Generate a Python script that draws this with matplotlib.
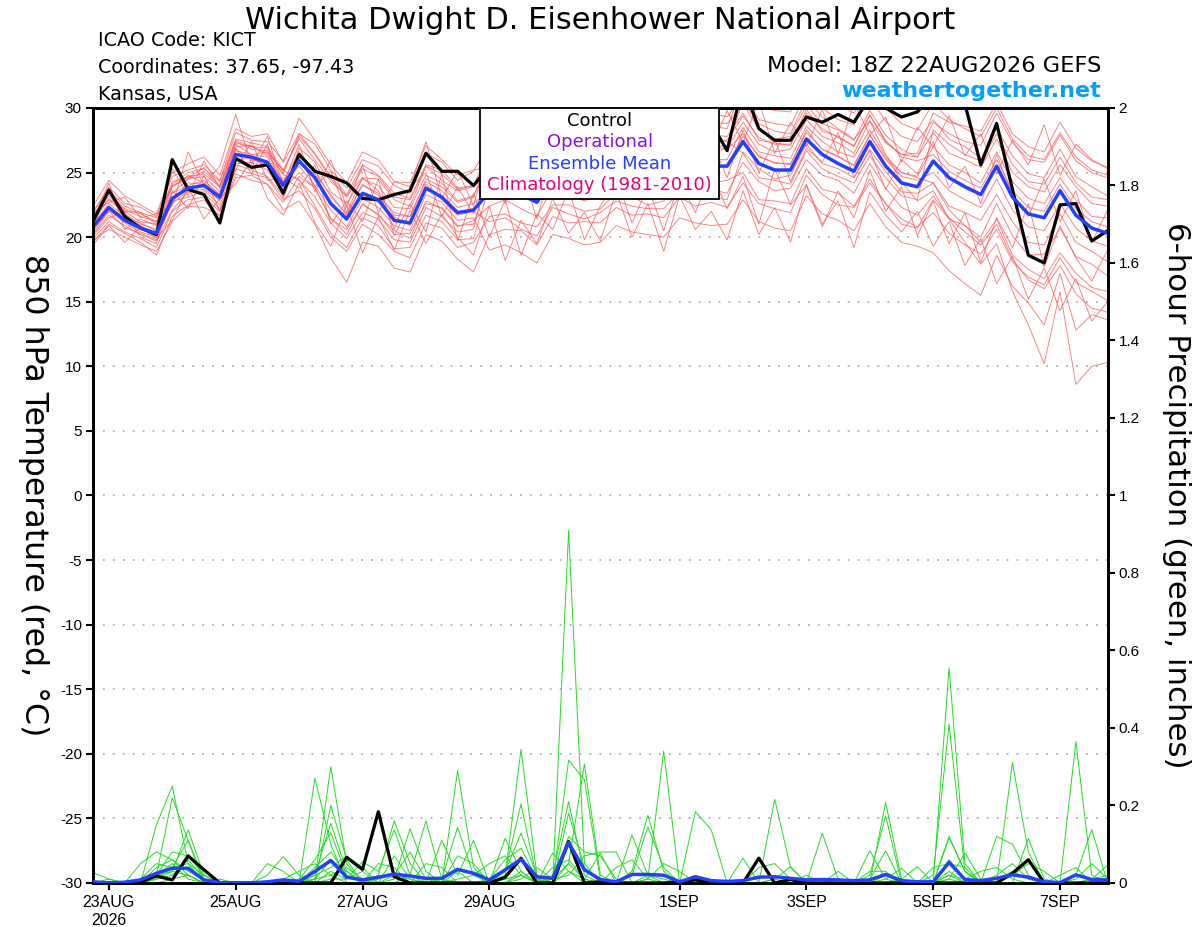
import numpy as np
import matplotlib
matplotlib.use("Agg")
import matplotlib.pyplot as plt
from matplotlib.patches import Rectangle

plt.rcParams['font.family'] = ['Liberation Sans', 'DejaVu Sans']
plt.rcParams['axes.unicode_minus'] = False
TXT = 'DejaVu Sans'

# forecast hours from 18Z 22AUG2026, every 6 h
fhour = np.arange(0, 385, 6)

tick_hours = [6, 54, 102, 150, 222, 270, 318, 366]
tick_labels = ['23AUG\n2026', '25AUG', '27AUG', '29AUG', '1SEP', '3SEP', '5SEP', '7SEP']

# 850 hPa temperature (C)
ctl_temp = [21.2, 23.65, 21.6, 20.7, 20.2, 26.0, 23.7, 23.3, 21.1, 26.1, 25.4, 25.6, 23.4,
            26.4, 25.1, 24.7, 24.2, 23.0, 22.9, 23.3, 23.6, 26.5, 25.1, 25.1, 24.0, 25.5,
            26.2, 25.0, 24.3, 26.8, 26.5, 25.9, 26.4, 27.6, 27.0, 26.8, 27.2, 28.6, 27.9,
            28.8, 26.7, 31.8, 28.4, 27.5, 27.5, 29.3, 28.9, 29.5, 28.9, 30.8, 30.0, 29.3,
            29.7, 31.0, 31.5, 30.3, 25.6, 28.8, 23.7, 18.6, 18.0, 22.5, 22.6, 19.7, 20.5]

mean_temp = [20.8, 22.3, 21.3, 20.7, 20.3, 23.0, 23.8, 24.0, 23.1, 26.4, 26.2, 25.8, 24.0,
             25.9, 24.6, 22.6, 21.4, 23.4, 22.9, 21.3, 21.1, 23.8, 23.1, 21.9, 22.1, 23.5,
             23.8, 23.3, 22.7, 24.6, 24.4, 24.0, 24.3, 25.4, 25.0, 24.6, 24.8, 26.0, 25.6,
             25.5, 25.5, 27.4, 25.7, 25.2, 25.2, 27.6, 26.4, 25.7, 25.1, 27.4, 25.5, 24.2,
             23.9, 25.9, 24.6, 23.9, 23.3, 25.5, 23.1, 21.8, 21.5, 23.6, 21.7, 20.7, 20.3]

temp_members = [
    [21.6, 23.5, 22.0, 21.9, 21.0, 24.3, 24.6, 25.4, 23.9, 27.5, 27.0, 26.5, 25.2,
     27.6, 26.0, 24.3, 23.2, 24.6, 24.5, 22.9, 22.4, 25.5, 24.4, 23.6, 23.9,
     26.0, 26.5, 25.7, 25.0, 27.3, 26.7, 26.6, 26.9, 27.9, 27.4, 26.9, 27.5, 28.3, 28.0, 27.9, 27.8,
     29.6, 27.5, 27.3, 27.1, 29.9, 28.2, 27.8, 27.0, 29.5, 27.4, 26.4, 26.2,
     28.9, 28.0, 27.4, 27.1, 29.6, 27.3, 26.0, 25.8, 27.9, 25.9, 25.0, 24.6],
    [20.2, 21.7, 20.9, 20.2, 19.7, 22.1, 23.5, 23.4, 22.2, 25.3, 24.9, 24.6, 22.9,
     23.6, 22.2, 20.0, 18.9, 21.0, 20.2, 18.9, 18.4, 21.1, 20.7, 19.2, 19.6,
     21.6, 21.8, 21.1, 20.8, 22.5, 22.5, 22.0, 22.2, 23.4, 23.1, 22.5, 22.8, 24.2, 23.5, 23.7, 23.4,
     25.8, 24.3, 23.6, 23.8, 26.0, 24.8, 24.4, 23.4, 25.7, 23.8, 22.3, 21.7,
     23.2, 21.5, 20.4, 19.4, 21.0, 18.3, 16.7, 16.0, 17.8, 15.6, 14.5, 14.2],
    [21.5, 22.9, 21.8, 21.0, 20.6, 23.9, 24.8, 24.2, 23.3, 27.2, 26.4, 26.6, 24.3,
     26.6, 24.9, 23.3, 21.7, 24.1, 23.2, 21.9, 21.6, 24.5, 23.9, 22.7, 23.1,
     26.3, 27.1, 26.6, 26.0, 28.2, 27.9, 27.4, 27.9, 29.0, 28.4, 28.1, 28.3, 29.6, 29.0, 28.9, 28.8,
     30.3, 28.4, 27.6, 27.8, 30.2, 28.8, 28.3, 27.5, 29.8, 27.9, 26.8, 26.2,
     28.1, 26.5, 26.0, 25.4, 27.6, 25.0, 23.9, 23.5, 25.6, 23.9, 22.6, 22.4],
    [19.6, 21.0, 20.3, 19.6, 18.6, 21.6, 22.5, 22.9, 21.6, 24.9, 24.4, 24.1, 22.1,
     22.8, 21.0, 18.4, 16.5, 19.6, 19.3, 17.6, 17.3, 20.2, 19.7, 18.3, 17.3,
     20.2, 20.6, 20.5, 19.4, 21.6, 21.1, 21.2, 21.1, 22.3, 21.7, 21.8, 21.5, 23.1, 22.4, 22.7, 22.3,
     24.2, 22.6, 22.2, 21.9, 24.8, 23.3, 22.5, 22.3, 24.2, 22.6, 21.0, 20.7,
     22.9, 21.4, 20.9, 20.0, 22.6, 20.1, 18.6, 18.7, 20.7, 18.5, 17.9, 17.0],
    [22.4, 24.4, 23.2, 22.5, 21.8, 25.0, 25.7, 26.2, 24.8, 28.4, 27.8, 28.0, 25.8,
     28.0, 26.5, 24.7, 23.3, 25.6, 24.8, 23.4, 23.0, 25.6, 25.2, 23.8, 24.0,
     24.6, 25.0, 24.2, 23.9, 25.4, 25.5, 24.8, 25.4, 26.3, 26.1, 25.5, 25.9, 26.8, 26.8, 26.5, 26.9,
     28.9, 27.2, 26.6, 26.8, 29.1, 27.8, 27.3, 26.5, 29.0, 27.3, 26.4, 26.5,
     29.6, 28.9, 28.6, 28.2, 30.4, 28.0, 27.0, 26.6, 28.9, 26.9, 25.9, 25.4],
    [20.6, 22.0, 21.5, 20.9, 20.1, 22.7, 24.2, 24.1, 22.8, 26.8, 26.0, 25.6, 23.7,
     25.0, 23.8, 21.4, 20.6, 22.5, 21.8, 20.2, 20.3, 22.6, 22.3, 20.9, 21.0,
     24.8, 25.4, 24.6, 24.3, 26.2, 25.8, 25.6, 25.7, 26.9, 26.6, 26.1, 26.3, 27.4, 27.2, 27.0, 27.1,
     30.5, 28.8, 28.2, 28.0, 30.7, 29.3, 28.4, 27.6, 29.0, 26.4, 24.3, 22.8,
     23.6, 21.4, 19.6, 17.9, 19.5, 15.8, 13.2, 10.2, 15.8, 8.6, 10.0, 10.3],
    [21.9, 23.9, 22.6, 22.3, 21.6, 24.7, 25.2, 25.6, 24.4, 28.1, 27.5, 27.4, 25.9,
     29.2, 27.5, 25.6, 24.2, 26.6, 26.0, 24.3, 24.2, 27.1, 26.0, 24.8, 25.2,
     25.4, 25.2, 24.8, 24.0, 26.3, 25.8, 25.4, 25.9, 27.0, 26.4, 26.0, 26.4, 27.5, 27.0, 27.1, 26.8,
     28.0, 26.2, 25.8, 25.6, 28.3, 26.8, 26.3, 25.5, 27.9, 26.1, 25.0, 24.7,
     27.0, 25.6, 25.0, 24.2, 26.6, 24.3, 23.0, 22.6, 24.6, 22.9, 21.6, 21.5],
    [19.8, 20.6, 20.0, 19.4, 18.9, 21.2, 22.4, 22.3, 21.7, 24.6, 24.8, 24.1, 22.7,
     24.7, 23.8, 21.5, 20.2, 22.6, 21.7, 20.5, 19.9, 22.8, 22.2, 20.8, 21.3,
     22.4, 22.9, 22.2, 21.6, 23.8, 23.3, 22.8, 23.4, 24.3, 24.0, 23.6, 23.7, 24.8, 24.5, 24.2, 24.4,
     25.0, 22.9, 22.8, 22.6, 25.3, 23.7, 23.4, 22.4, 24.5, 22.6, 21.4, 20.8,
     21.9, 20.3, 19.4, 18.7, 20.6, 18.1, 16.9, 16.3, 18.4, 16.5, 15.8, 15.1],
    [21.1, 23.0, 22.0, 21.2, 21.0, 23.4, 24.5, 24.7, 23.5, 27.0, 27.1, 26.3, 24.9,
     28.0, 27.2, 25.2, 23.8, 26.0, 25.5, 24.0, 23.4, 26.5, 25.8, 24.4, 25.1,
     27.3, 27.6, 27.5, 26.6, 28.7, 28.4, 28.0, 28.1, 29.6, 29.0, 28.7, 28.8, 30.2, 29.5, 29.6, 29.3,
     31.0, 29.1, 28.8, 28.6, 31.2, 30.0, 29.1, 28.7, 30.8, 29.0, 27.8, 27.4,
     29.1, 27.6, 27.0, 26.1, 28.4, 26.3, 24.9, 24.6, 26.8, 24.7, 23.9, 23.2],
    [20.3, 22.0, 20.7, 20.3, 19.8, 22.8, 23.1, 23.6, 22.5, 25.7, 25.8, 25.2, 23.4,
     25.8, 24.7, 22.5, 21.6, 23.3, 22.7, 21.6, 20.9, 24.1, 22.9, 21.7, 22.0,
     21.2, 21.5, 20.6, 20.1, 22.3, 21.8, 21.4, 21.9, 22.8, 22.4, 22.2, 22.2, 23.5, 23.0, 23.1, 22.9,
     26.6, 25.3, 24.5, 24.8, 27.2, 25.7, 25.3, 24.6, 26.8, 25.1, 23.5, 23.4,
     24.2, 22.4, 21.9, 21.3, 23.3, 21.2, 19.6, 19.4, 21.8, 19.6, 18.9, 18.1],
    [21.7, 23.4, 22.2, 21.8, 21.2, 24.0, 24.5, 25.1, 24.0, 27.3, 27.0, 26.9, 24.8,
     24.5, 22.4, 20.3, 19.2, 21.5, 20.9, 19.1, 19.2, 21.7, 21.2, 19.8, 19.9,
     23.9, 24.4, 23.7, 23.3, 25.0, 24.9, 24.6, 24.7, 25.9, 25.3, 25.2, 25.2, 26.4, 26.1, 26.0, 26.0,
     28.5, 26.6, 26.3, 26.1, 28.6, 27.4, 26.6, 26.2, 28.3, 26.3, 25.0, 24.6,
     24.2, 22.1, 20.9, 19.6, 21.4, 18.6, 17.5, 16.8, 18.8, 17.2, 16.1, 15.8],
    [19.9, 21.2, 20.4, 19.9, 19.2, 22.0, 22.9, 23.1, 22.0, 25.6, 25.2, 24.7, 23.2,
     26.9, 25.8, 23.5, 22.6, 24.5, 24.0, 22.3, 22.2, 24.8, 24.2, 22.8, 23.2,
     25.5, 25.8, 25.4, 24.6, 26.7, 26.3, 26.1, 26.3, 27.3, 27.0, 26.7, 26.7, 28.0, 27.5, 27.6, 27.4,
     26.5, 24.6, 24.4, 24.1, 26.7, 25.3, 24.7, 24.2, 26.3, 24.6, 23.2, 22.9,
     28.3, 27.2, 26.4, 25.9, 28.0, 25.6, 24.3, 24.1, 26.2, 24.2, 23.1, 22.9],
    [21.0, 22.6, 21.6, 21.1, 20.5, 23.4, 24.0, 24.4, 23.3, 26.7, 26.4, 26.2, 24.3,
     25.5, 24.0, 22.1, 20.8, 23.0, 22.3, 20.9, 20.5, 23.3, 22.7, 21.3, 21.5,
     19.0, 19.4, 18.8, 18.0, 20.2, 19.9, 19.4, 19.6, 20.9, 20.4, 20.2, 20.0, 21.5, 21.1, 20.9, 21.0,
     22.9, 21.2, 20.7, 20.5, 23.2, 21.8, 21.3, 20.5, 22.6, 20.8, 19.6, 19.3,
     18.8, 17.4, 16.4, 15.5, 18.6, 16.2, 14.9, 13.2, 17.2, 12.8, 14.0, 13.6],
    [21.4, 23.2, 22.1, 21.6, 21.2, 23.9, 24.7, 24.9, 23.9, 27.4, 26.8, 26.7, 25.1,
     27.8, 26.4, 24.5, 23.1, 25.3, 24.7, 23.1, 22.9, 25.5, 24.9, 23.7, 24.0,
     26.7, 26.6, 26.2, 25.8, 27.6, 27.4, 27.1, 27.2, 28.5, 28.0, 27.7, 27.8, 29.0, 28.5, 28.6, 28.4,
     31.9, 30.2, 29.8, 29.7, 32.0, 30.9, 30.2, 29.6, 31.8, 30.0, 28.8, 28.3,
     30.4, 29.1, 28.4, 27.8, 30.0, 27.6, 26.3, 26.0, 28.1, 26.2, 25.2, 24.8],
    [20.5, 22.1, 21.1, 20.4, 20.0, 22.6, 23.6, 23.7, 22.9, 26.0, 26.1, 25.5, 24.0,
     26.3, 25.2, 23.1, 21.8, 24.0, 23.4, 21.7, 21.6, 24.3, 23.6, 22.3, 22.6,
     23.6, 23.7, 23.5, 22.6, 24.5, 24.5, 23.9, 24.4, 25.3, 25.1, 24.5, 24.9, 25.9, 25.7, 25.4, 25.6,
     27.8, 26.3, 25.7, 25.7, 28.1, 26.8, 26.2, 25.6, 27.9, 26.0, 24.7, 24.4,
     25.0, 23.6, 22.9, 22.3, 24.5, 22.1, 20.8, 20.5, 22.6, 20.7, 19.7, 19.3],
    [22.0, 23.6, 22.4, 21.9, 21.5, 24.1, 25.0, 25.3, 24.3, 27.6, 27.3, 27.0, 25.2,
     24.4, 23.1, 21.1, 19.9, 21.9, 21.4, 19.8, 19.6, 22.3, 21.6, 20.4, 20.6,
     25.5, 25.8, 25.3, 24.7, 26.6, 26.4, 26.0, 26.3, 27.4, 27.0, 26.6, 26.8, 28.0, 27.6, 27.5, 27.5,
     29.4, 27.7, 27.2, 27.2, 29.6, 28.4, 27.7, 27.1, 29.4, 27.5, 26.2, 25.9,
     26.4, 25.1, 24.4, 23.8, 26.0, 23.6, 22.3, 22.0, 24.1, 22.2, 21.2, 20.8],
    [20.1, 21.5, 21.9, 20.0, 19.5, 23.6, 22.2, 24.8, 22.0, 25.2, 27.4, 24.4, 24.6,
     23.8, 25.6, 21.0, 22.8, 21.2, 24.5, 20.1, 22.6, 20.4, 24.9, 19.7, 23.4,
     20.0, 22.9, 18.6, 21.8, 20.6, 23.7, 19.8, 22.4, 24.6, 21.1, 23.9, 20.5, 24.4, 21.9, 25.0, 22.2,
     24.7, 21.0, 25.3, 22.5, 24.0, 20.8, 23.6, 21.5, 25.2, 22.0, 23.9, 20.1,
     22.8, 19.5, 21.9, 18.0, 21.5, 19.2, 22.6, 17.7, 20.9, 18.4, 16.6, 19.0],
    [21.9, 22.7, 23.1, 21.5, 21.8, 22.4, 26.6, 24.0, 25.5, 29.5, 25.6, 27.8, 24.1,
     27.2, 23.5, 26.0, 22.3, 25.6, 21.9, 24.3, 23.9, 27.4, 23.0, 25.2, 22.4,
     27.0, 24.2, 28.0, 23.5, 26.4, 29.1, 25.0, 27.7, 24.5, 28.8, 26.2, 29.5, 25.4, 28.4, 26.9, 29.8,
     27.3, 30.6, 26.5, 28.9, 27.0, 29.9, 26.4, 30.4, 27.9, 29.3, 25.8, 28.5,
     27.0, 29.4, 26.3, 28.0, 24.9, 27.5, 25.6, 28.7, 24.8, 27.2, 26.0, 25.3],
    [19.4, 20.9, 19.6, 20.8, 19.9, 21.3, 23.9, 21.4, 23.0, 24.1, 26.0, 23.0, 21.7,
     24.2, 21.1, 19.3, 22.5, 18.8, 21.6, 19.0, 22.1, 19.5, 21.8, 20.0, 18.6,
     22.4, 18.2, 21.3, 19.5, 23.0, 20.3, 21.9, 19.7, 23.5, 20.0, 22.6, 18.9, 23.2, 20.6, 22.0, 19.8,
     23.6, 20.2, 22.3, 19.6, 24.1, 21.0, 22.8, 19.2, 23.5, 21.7, 20.4, 22.0,
     19.3, 21.2, 17.8, 19.9, 16.4, 18.5, 15.2, 17.6, 14.3, 16.8, 13.5, 15.0],
    [21.3, 24.2, 20.6, 21.4, 20.9, 25.3, 23.2, 25.9, 23.8, 26.9, 24.9, 27.2, 23.0,
     26.2, 23.9, 25.1, 21.9, 24.6, 23.6, 20.6, 23.9, 25.0, 21.6, 23.9, 21.8,
     24.7, 22.6, 25.4, 21.4, 25.8, 23.2, 26.7, 22.9, 25.9, 23.8, 27.1, 23.6, 26.3, 24.2, 27.5, 24.6,
     28.3, 25.0, 27.6, 24.3, 26.9, 25.8, 28.1, 24.6, 26.7, 23.7, 26.0, 24.9,
     27.4, 23.8, 25.5, 22.6, 26.4, 23.3, 21.6, 24.5, 21.2, 23.6, 19.6, 22.1],
]

# 6-hour precipitation (inches)
ctl_pcp = [0, 0, 0, 0.003, 0.018, 0.008, 0.07, 0.034, 0, 0, 0, 0, 0,
           0, 0, 0, 0.066, 0.035, 0.184, 0.016, 0, 0, 0, 0, 0, 0,
           0.015, 0.064, 0, 0, 0.107, 0, 0.003, 0, 0, 0, 0, 0.003, 0.008,
           0, 0, 0, 0.064, 0, 0.009, 0, 0, 0, 0, 0, 0, 0,
           0, 0, 0, 0, 0, 0, 0.025, 0.06, 0, 0, 0, 0, 0]

mean_pcp = [0.003, 0.0, 0.002, 0.008, 0.025, 0.038, 0.038, 0.008, 0.001, 0, 0, 0.003, 0.008,
            0.004, 0.03, 0.058, 0.015, 0.008, 0.015, 0.023, 0.018, 0.012, 0.012, 0.035, 0.025, 0.008,
            0.034, 0.061, 0.016, 0.012, 0.104, 0.034, 0.009, 0.003, 0.022, 0.022, 0.02, 0.003, 0.016,
            0.006, 0.004, 0.006, 0.015, 0.016, 0.012, 0.008, 0.009, 0.008, 0.006, 0.008, 0.022, 0.006,
            0.003, 0.003, 0.053, 0.009, 0.006, 0.012, 0.021, 0.015, 0.003, 0.001, 0.021, 0.009, 0.008]

pcp_members = [
    [0, 0, 0, 0, 0.15, 0.25, 0.05, 0, 0, 0, 0, 0, 0,
     0, 0.27, 0.1, 0, 0, 0, 0, 0, 0, 0, 0, 0, 0,
     0, 0, 0, 0, 0.91, 0.05, 0, 0, 0, 0, 0, 0, 0,
     0, 0, 0, 0, 0, 0, 0, 0, 0, 0, 0, 0, 0,
     0, 0, 0.555, 0.05, 0, 0, 0, 0, 0, 0, 0.365, 0.02, 0],
    [0, 0, 0, 0, 0.02, 0.22, 0.11, 0, 0, 0, 0, 0, 0,
     0, 0.01, 0.3, 0.05, 0, 0, 0, 0, 0, 0, 0, 0, 0,
     0.02, 0.345, 0.02, 0, 0, 0, 0, 0, 0, 0.01, 0.34, 0, 0,
     0, 0, 0, 0, 0, 0, 0, 0, 0, 0, 0, 0, 0,
     0, 0.02, 0.41, 0.03, 0, 0, 0.31, 0.08, 0, 0, 0, 0, 0],
    [0.027, 0.01, 0, 0.05, 0.08, 0.06, 0.02, 0, 0, 0, 0, 0, 0,
     0, 0, 0.2, 0.06, 0, 0.02, 0.16, 0.05, 0, 0, 0.29, 0.04, 0,
     0, 0.02, 0, 0, 0.05, 0.307, 0.02, 0, 0, 0, 0, 0, 0,
     0, 0, 0, 0, 0.216, 0.04, 0, 0, 0, 0, 0, 0.208, 0.01,
     0, 0, 0.03, 0, 0, 0, 0, 0, 0, 0, 0, 0, 0],
    [0, 0, 0, 0, 0.01, 0.03, 0.137, 0.02, 0, 0, 0, 0, 0,
     0, 0.02, 0.154, 0.03, 0, 0, 0, 0.02, 0.16, 0.01, 0, 0, 0,
     0.03, 0.204, 0.01, 0, 0.317, 0.266, 0.01, 0, 0, 0, 0, 0, 0.184,
     0.137, 0, 0, 0, 0, 0, 0, 0, 0, 0, 0.02, 0.173, 0,
     0, 0, 0, 0, 0, 0, 0, 0, 0, 0, 0, 0.01, 0.046],
    [0, 0, 0, 0.01, 0.05, 0.04, 0.11, 0.01, 0, 0, 0, 0, 0,
     0.01, 0.06, 0.13, 0.02, 0, 0, 0.01, 0.14, 0.03, 0, 0, 0, 0,
     0, 0.03, 0, 0.02, 0.21, 0.02, 0, 0, 0.03, 0.175, 0.03, 0, 0,
     0, 0, 0, 0, 0, 0, 0, 0.128, 0.01, 0, 0, 0, 0,
     0, 0, 0.117, 0.03, 0, 0, 0, 0, 0, 0, 0.02, 0.138, 0],
    [0, 0, 0, 0, 0.02, 0.08, 0.07, 0.02, 0, 0, 0, 0.02, 0.068,
     0.02, 0, 0.03, 0.01, 0.055, 0.03, 0.137, 0.02, 0, 0.01, 0.144, 0.02, 0,
     0.115, 0.03, 0, 0, 0.03, 0, 0, 0, 0.02, 0.145, 0.04, 0, 0,
     0, 0, 0, 0, 0, 0, 0, 0.01, 0, 0, 0.083, 0.01, 0,
     0, 0, 0.02, 0, 0, 0.12, 0.1, 0.02, 0, 0, 0, 0, 0],
    [0, 0, 0, 0, 0.04, 0.06, 0.03, 0.01, 0, 0, 0, 0.05, 0.03,
     0, 0.02, 0.04, 0.07, 0.04, 0, 0, 0, 0, 0.11, 0.02, 0.11, 0,
     0.01, 0.02, 0, 0.077, 0.03, 0.01, 0.077, 0, 0.124, 0.02, 0, 0, 0,
     0, 0, 0, 0, 0.01, 0, 0, 0, 0, 0, 0.01, 0.083, 0,
     0, 0, 0.01, 0.077, 0.01, 0, 0, 0.115, 0.01, 0, 0, 0, 0],
    [0, 0, 0, 0.01, 0.02, 0.03, 0.02, 0, 0, 0, 0, 0, 0,
     0, 0.04, 0.08, 0.02, 0, 0.05, 0.04, 0, 0, 0, 0.03, 0, 0,
     0.03, 0.128, 0.02, 0, 0.12, 0.08, 0.07, 0.01, 0, 0, 0, 0, 0,
     0, 0, 0.064, 0, 0.01, 0.042, 0, 0, 0, 0, 0, 0, 0.01,
     0.042, 0, 0.01, 0, 0, 0.02, 0.05, 0.01, 0, 0, 0.01, 0.05, 0.01],
    [0, 0.01, 0, 0, 0.01, 0.04, 0.05, 0.02, 0, 0, 0, 0, 0,
     0, 0.01, 0.06, 0.03, 0, 0, 0.02, 0.01, 0, 0, 0, 0, 0.01,
     0.06, 0.09, 0.01, 0, 0.18, 0.04, 0, 0, 0, 0.02, 0.01, 0, 0,
     0, 0, 0, 0, 0, 0, 0, 0, 0.03, 0, 0, 0.01, 0.038,
     0, 0, 0.06, 0.01, 0, 0, 0, 0, 0, 0.02, 0.04, 0, 0],
    [0, 0, 0, 0, 0.01, 0.02, 0.06, 0.01, 0, 0, 0, 0, 0.01,
     0.03, 0.05, 0.02, 0, 0, 0.01, 0.02, 0.08, 0.01, 0, 0.07, 0.05, 0,
     0.01, 0.06, 0, 0.01, 0.05, 0.01, 0, 0.04, 0.06, 0.01, 0, 0, 0.02,
     0, 0, 0, 0.04, 0.05, 0.01, 0, 0, 0.01, 0, 0, 0.02, 0,
     0, 0, 0.12, 0.03, 0, 0.01, 0.03, 0.01, 0, 0, 0, 0, 0.01],
    [0, 0, 0, 0, 0.02, 0.05, 0.01, 0, 0, 0, 0, 0, 0,
     0, 0, 0.01, 0.01, 0.03, 0, 0, 0, 0.05, 0.04, 0, 0, 0,
     0, 0.01, 0.04, 0.01, 0.02, 0.07, 0.08, 0.08, 0, 0, 0, 0, 0,
     0, 0, 0, 0, 0, 0, 0.02, 0, 0, 0, 0.03, 0.03, 0,
     0, 0, 0.02, 0.01, 0.03, 0.04, 0.01, 0, 0, 0, 0, 0.01, 0.02],
    [0, 0, 0, 0, 0, 0.01, 0.02, 0, 0.01, 0, 0, 0, 0,
     0, 0.01, 0.02, 0.04, 0.01, 0, 0.07, 0.01, 0, 0, 0.01, 0.02, 0.05,
     0.07, 0.02, 0, 0.04, 0.06, 0.01, 0, 0, 0, 0.01, 0.05, 0.03, 0,
     0, 0, 0, 0, 0, 0, 0, 0, 0, 0, 0, 0, 0,
     0, 0.04, 0.05, 0.04, 0, 0, 0.02, 0.05, 0.03, 0, 0, 0, 0],
]

fig = plt.figure(figsize=(12, 9.27), dpi=100)
ax = fig.add_axes([0.0775, 0.0475, 0.8455, 0.836])
ax2 = ax.twinx()

for v in range(-25, 30, 5):
    ax.axhline(v, color='#b0b0b0', lw=1.3, ls=(0, (1, 4.5)), zorder=0)

for m in temp_members:
    ax.plot(fhour, m, color='#ff5a5a', lw=0.65, alpha=0.8, zorder=1)
ax.plot(fhour, ctl_temp, color='black', lw=2.3, zorder=3)
ax.plot(fhour, mean_temp, color='#2340ff', lw=2.5, zorder=4)

for m in pcp_members:
    ax2.plot(fhour, m, color='#22dd22', lw=0.7, zorder=1)
ax2.plot(fhour, ctl_pcp, color='black', lw=2.3, zorder=3)
ax2.plot(fhour, mean_pcp, color='#2340ff', lw=2.5, zorder=4)

ax.set_xlim(0, 384)
ax.set_ylim(-30, 30)
ax2.set_ylim(0, 2)
ax.set_yticks(range(-30, 31, 5))
ax.set_yticklabels([str(v) for v in range(-30, 31, 5)])
ax2.set_yticks(np.arange(0, 2.01, 0.2))
ax2.set_yticklabels(['%g' % round(v, 1) for v in np.arange(0, 2.01, 0.2)])
ax.set_xticks(tick_hours)
ax.set_xticklabels(tick_labels)

for a in (ax, ax2):
    for s in a.spines.values():
        s.set_linewidth(2)
    a.tick_params(direction='out', length=5, width=1.5, labelsize=11, pad=3)
ax.tick_params(axis='x', labelsize=11.5, pad=4)

# legend box
ax2.add_patch(Rectangle((0.3817, 0.8826), 0.2357, 0.1174, transform=ax2.transAxes,
                        facecolor='white', edgecolor='black', lw=1.3, zorder=10))
leg_items = [('Control', 'black'), ('Operational', '#8a10e0'),
             ('Ensemble Mean', '#2340ff'), ('Climatology (1981-2010)', '#e8007c')]
leg_y = [0.983, 0.956, 0.928, 0.900]
for (txt, col), yy in zip(leg_items, leg_y):
    ax2.text(0.4995, yy, txt, color=col, fontsize=13, family=TXT, ha='center', va='center',
             transform=ax2.transAxes, zorder=11)

fig.text(0.5, 1 - 29 / 927, 'Wichita Dwight D. Eisenhower National Airport',
         fontsize=22, family=TXT, ha='center', va='baseline')
fig.text(98 / 1200, 1 - 46 / 927, 'ICAO Code: KICT', fontsize=13.8, family=TXT, va='baseline')
fig.text(98 / 1200, 1 - 73 / 927, 'Coordinates: 37.65, -97.43', fontsize=13.8, family=TXT,
         va='baseline')
fig.text(98 / 1200, 1 - 100 / 927, 'Kansas, USA', fontsize=13.8, family=TXT, va='baseline')
fig.text(1101 / 1200, 1 - 72 / 927, 'Model: 18Z 22AUG2026 GEFS', fontsize=16.2, family=TXT,
         ha='right', va='baseline')
fig.text(1101 / 1200, 1 - 97 / 927, 'weathertogether.net', fontsize=16, fontweight='bold',
         family=TXT, color='#00a0ff', ha='right', va='baseline')

fig.text(33 / 1200, 1 - 495 / 927, '850 hPa Temperature (red, °C)', fontsize=22.8,
         family=TXT, rotation=270, ha='center', va='center')
fig.text(1177 / 1200, 1 - 495 / 927, '6-hour Precipitation (green, inches)', fontsize=22.2,
         family=TXT, rotation=270, ha='center', va='center')

fig.savefig('out.png', dpi=100)
